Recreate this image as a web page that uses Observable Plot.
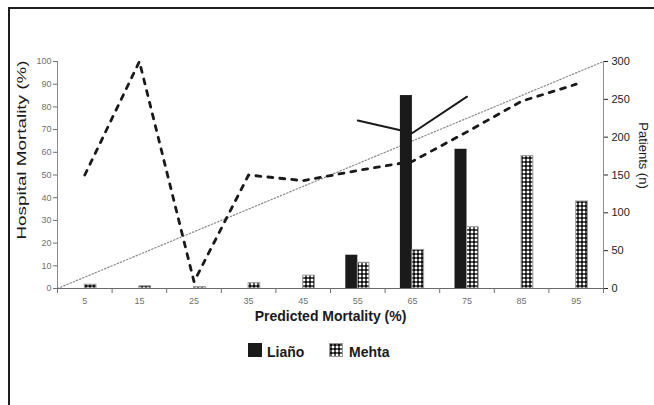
<!DOCTYPE html>
<html>
<head>
<meta charset="utf-8">
<script src="https://cdn.jsdelivr.net/npm/d3@7"></script>
<script src="https://cdn.jsdelivr.net/npm/@observablehq/plot@0.6"></script>
<style>
  body { margin: 0; background: #fff; font-family: "Liberation Sans", Arial, sans-serif; }
  #wrap { position: relative; width: 654px; height: 405px; overflow: hidden; background: #fff; }
  #frame { position: absolute; left: 8px; top: 7px; width: 700px; height: 500px;
           border-top: 2.5px solid #1e1e1e; border-left: 2.5px solid #1e1e1e; }
  #chart { position: absolute; left: 0; top: 0; }
  .lg { position: absolute; font-size: 14px; font-weight: bold; color: #1a1a1a; line-height: 14px; }
</style>
</head>
<body>
<div id="wrap">
  <div id="frame"></div>
  <div id="chart"></div>
  <div id="legend"></div>
</div>
<script>
// ---- data ----
const predicted      = [5, 15, 25, 35, 45, 55, 65, 75, 85, 95];           // Predicted mortality bins (%)
const lianoPatients  = [0, 0, 0, 0, 0, 44, 255, 184, 0, 0];               // Liaño, patients (n)
const mehtaPatients  = [5, 3, 2, 7, 17, 34, 51, 81, 175, 115];            // Mehta, patients (n)
const lianoMortality = [null, null, null, null, null, 74, 68.5, 84.5, null, null]; // Liaño hospital mortality (%)
const mehtaMortality = [50, 100, 3, 50, 47.5, 52, 56, 69, 82.5, 90];      // Mehta hospital mortality (%)
const leftTicks  = [0, 10, 20, 30, 40, 50, 60, 70, 80, 90, 100];
const rightTicks = [0, 50, 100, 150, 200, 250, 300];
const seriesNames = ["Liaño", "Mehta"];
const xTitle = "Predicted Mortality (%)";
const yLeftTitle = "Hospital Mortality (%)";
const yRightTitle = "Patients (n)";

const leftMax = 100, rightMax = 300;
const ratio = rightMax / leftMax;
const binHalf = (predicted[1] - predicted[0]) / 2;
const xDomain = [predicted[0] - binHalf, predicted[predicted.length - 1] + binHalf];
const binEdges = predicted.map(p => p - binHalf).concat(xDomain[1]);

const rows = predicted.map((p, i) => ({
  p, liano: lianoPatients[i], mehta: mehtaPatients[i],
  lm: lianoMortality[i], mm: mehtaMortality[i]
}));

function patternDefs() {
  const g = d3.create("svg:g");
  const pat = g.append("defs").append("pattern")
    .attr("id", "mehtaPattern").attr("patternUnits", "userSpaceOnUse")
    .attr("width", 4).attr("height", 4);
  pat.append("rect").attr("width", 4).attr("height", 4).attr("fill", "#fff");
  pat.append("rect").attr("x", 0.3).attr("y", 1.0).attr("width", 3.4).attr("height", 2).attr("fill", "#111");
  pat.append("rect").attr("x", 1.0).attr("y", 0.3).attr("width", 2).attr("height", 3.4).attr("fill", "#111");
  return g.node();
}

const chart = Plot.plot({
  width: 654,
  height: 335,
  marginLeft: 57,
  marginRight: 51,
  marginTop: 61,
  marginBottom: 47,
  style: { fontFamily: "'Liberation Sans', Arial, sans-serif", background: "transparent", overflow: "visible" },
  x: { type: "linear", domain: xDomain },
  y: { domain: [0, leftMax] },
  marks: [
    patternDefs,
    // identity reference line
    Plot.line(xDomain.map(v => ({ x: v, y: v })), {
      x: "x", y: "y", stroke: "#8a8a8a", strokeWidth: 1.2, strokeDasharray: "1.4,2"
    }),
    // bars (right axis, patients)
    Plot.rect(rows.filter(d => d.liano > 0), {
      x1: d => d.p - binHalf, x2: d => d.p + binHalf, y1: 0, y2: d => d.liano / ratio,
      insetLeft: 15.3, insetRight: 27.3, fill: "#1a1a1a"
    }),
    Plot.rect(rows.filter(d => d.mehta > 0), {
      x1: d => d.p - binHalf, x2: d => d.p + binHalf, y1: 0, y2: d => d.mehta / ratio,
      insetLeft: 27.3, insetRight: 15.6, fill: "url(#mehtaPattern)", stroke: "#9a9a9a", strokeWidth: 1
    }),
    // axis lines
    Plot.ruleX([xDomain[0]], { stroke: "#8c8c8c" }),
    Plot.ruleX([xDomain[1]], { stroke: "#8c8c8c" }),
    Plot.ruleY([0], { stroke: "#6a6a6a" }),
    // mortality lines (left axis)
    Plot.line(rows, { x: "p", y: "mm", stroke: "#1a1a1a", strokeWidth: 2.8, strokeDasharray: "5,7" }),
    Plot.line(rows.filter(d => d.lm != null), { x: "p", y: "lm", stroke: "#1a1a1a", strokeWidth: 2 }),
    // axes
    Plot.axisY(leftTicks, { anchor: "left", tickSize: 4, tickPadding: 2, fontSize: 9, color: "#707070", label: null }),
    Plot.axisY(rightTicks.map(v => v / ratio), {
      anchor: "right", tickFormat: v => String(Math.round(v * ratio)),
      tickSize: 4, tickPadding: 4, fontSize: 11, color: "#222", label: null
    }),
    Plot.axisX(binEdges, { tickFormat: () => "", tickSize: 5, color: "#707070", label: null }),
    Plot.axisX(predicted, { tickSize: 0, tickPadding: 9, fontSize: 9, color: "#707070", label: null }),
    // titles
    Plot.text([yLeftTitle], { frameAnchor: "left", textAnchor: "middle", dx: -36, dy: -25, rotate: -90, fontSize: 13, fill: "#1a1a1a" }),
    Plot.text([yRightTitle], { frameAnchor: "right", textAnchor: "middle", dx: 40, dy: -19.5, rotate: 90, fontSize: 13, fill: "#1a1a1a" }),
    Plot.text([xTitle], { frameAnchor: "bottom", textAnchor: "middle", dy: 32, fontSize: 14, fontWeight: "bold", fill: "#1a1a1a" })
  ]
});

// the reference's left title is stretched along its length
d3.select(chart).selectAll("text")
  .filter(function () { return this.textContent === yLeftTitle; })
  .attr("transform", function () { return (this.getAttribute("transform") || "") + " scale(1.45,1)"; });

document.getElementById("chart").appendChild(chart);

// legend (below the chart)
const lg = document.getElementById("legend");
lg.innerHTML = `
  <div style="position:absolute;left:248px;top:343px;width:14px;height:14px;background:#1a1a1a"></div>
  <div class="lg" style="left:267px;top:345px">${seriesNames[0]}</div>
  <svg style="position:absolute;left:329px;top:343px" width="14" height="14">
    <defs><pattern id="lgPat" patternUnits="userSpaceOnUse" width="4" height="4">
      <rect width="4" height="4" fill="#fff"/>
      <rect x="0.3" y="1.0" width="3.4" height="2" fill="#111"/>
      <rect x="1.0" y="0.3" width="2" height="3.4" fill="#111"/>
    </pattern></defs>
    <rect x="0.5" y="0.5" width="13" height="13" fill="url(#lgPat)" stroke="#9a9a9a"/>
  </svg>
  <div class="lg" style="left:349px;top:345px">${seriesNames[1]}</div>`;
</script>
</body>
</html>
